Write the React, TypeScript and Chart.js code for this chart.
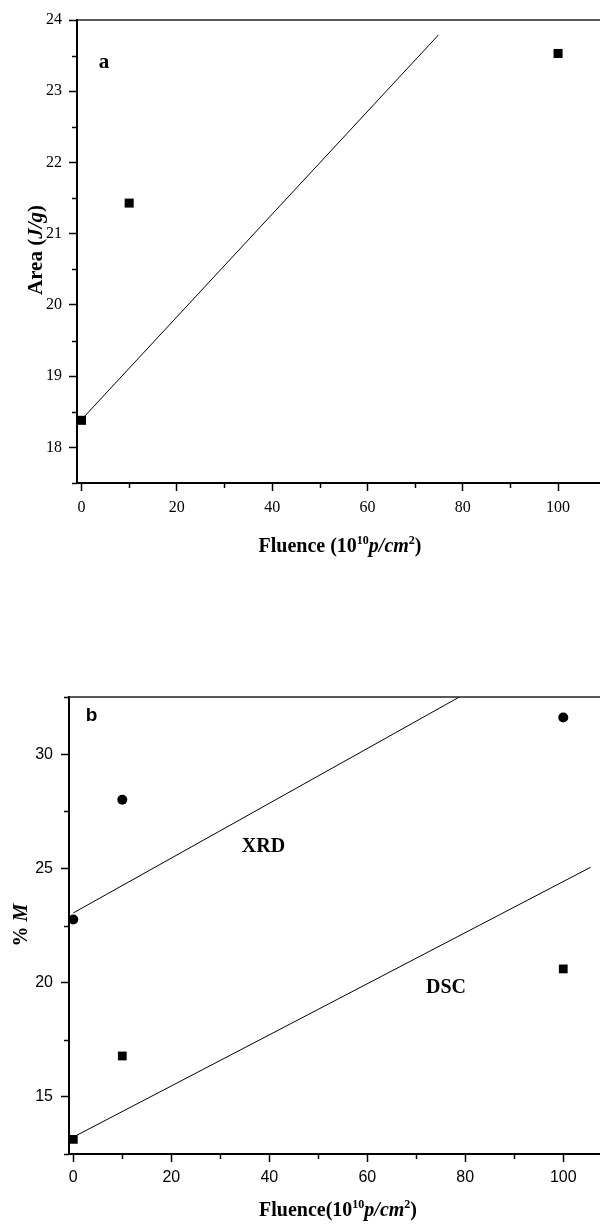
import React, { useEffect, useRef } from 'react';
import { Chart, registerables } from 'chart.js';
Chart.register(...registerables);

// ---------- Panel a ----------
const fluenceA = [0, 10, 100];
const areaA = [18.38, 21.43, 23.53];
const fitAX = [0, 74.9];
const fitAY = [18.39, 23.79];
const xTicksMajor = [0, 20, 40, 60, 80, 100];
const xTicksMinor = [10, 30, 50, 70, 90];
const yTicksA = [18, 19, 20, 21, 22, 23, 24];
const yMinorA = [17.5, 18.5, 19.5, 20.5, 21.5, 22.5, 23.5];

// ---------- Panel b ----------
const fluenceB = [0, 10, 100];
const xrdB = [22.76, 28.0, 31.6];
const dscB = [13.14, 16.79, 20.6];
const fitXrdX = [0, 78.8];
const fitXrdY = [23.05, 32.5];
const fitDscX = [0, 105.6];
const fitDscY = [13.24, 25.05];
const yTicksB = [15, 20, 25, 30];
const yMinorB = [12.5, 17.5, 22.5, 27.5, 32.5];

const SERIF = "'Liberation Serif', 'Times New Roman', serif";
const SANS = "'Liberation Sans', Arial, sans-serif";

type Seg = { t: string; f: string; dy?: number };

function drawRich(ctx: CanvasRenderingContext2D, segs: Seg[], x: number, y: number, rotate = false) {
  ctx.save();
  ctx.translate(x, y);
  if (rotate) ctx.rotate(-Math.PI / 2);
  let total = 0;
  for (const s of segs) {
    ctx.font = s.f;
    total += ctx.measureText(s.t).width;
  }
  let cx = -total / 2;
  ctx.textAlign = 'left';
  ctx.textBaseline = 'alphabetic';
  ctx.fillStyle = '#000';
  for (const s of segs) {
    ctx.font = s.f;
    ctx.fillText(s.t, cx, s.dy || 0);
    cx += ctx.measureText(s.t).width;
  }
  ctx.restore();
}

type Extra = {
  yMinor: number[];
  xTitle: { segs: Seg[]; x: number; y: number };
  yTitle: { segs: Seg[]; x: number; y: number };
  labels: { text: string; font: string; x: number; y: number }[];
};

function makePlugin(extra: Extra) {
  return {
    id: 'extras',
    afterDraw(chart: any) {
      const ctx: CanvasRenderingContext2D = chart.ctx;
      const { left, right, top, bottom } = chart.chartArea;
      const xs = chart.scales.x;
      const ys = chart.scales.y;
      ctx.save();
      // top frame line
      ctx.strokeStyle = '#222';
      ctx.lineWidth = 1.5;
      ctx.beginPath();
      ctx.moveTo(left, top);
      ctx.lineTo(right, top);
      ctx.stroke();
      // minor ticks
      ctx.strokeStyle = '#000';
      ctx.lineWidth = 1.5;
      for (const v of xTicksMinor) {
        const px = Math.round(xs.getPixelForValue(v)) + 0.5;
        ctx.beginPath();
        ctx.moveTo(px, bottom);
        ctx.lineTo(px, bottom + 5);
        ctx.stroke();
      }
      for (const v of extra.yMinor) {
        const py = Math.round(ys.getPixelForValue(v)) + 0.5;
        ctx.beginPath();
        ctx.moveTo(left - 5, py);
        ctx.lineTo(left, py);
        ctx.stroke();
      }
      ctx.restore();
      drawRich(ctx, extra.xTitle.segs, extra.xTitle.x, extra.xTitle.y, false);
      drawRich(ctx, extra.yTitle.segs, extra.yTitle.x, extra.yTitle.y, true);
      ctx.save();
      ctx.fillStyle = '#000';
      ctx.textAlign = 'center';
      ctx.textBaseline = 'alphabetic';
      for (const l of extra.labels) {
        ctx.font = l.font;
        ctx.fillText(l.text, l.x, l.y);
      }
      ctx.restore();
    },
  };
}

function xScale(min: number, max: number, height: number, family: string, pad: number) {
  return {
    type: 'linear',
    min,
    max,
    afterBuildTicks: (s: any) => {
      s.ticks = xTicksMajor.map((v) => ({ value: v }));
    },
    afterFit: (s: any) => {
      s.height = height;
    },
    grid: { display: true, drawOnChartArea: false, drawTicks: true, tickLength: 8, tickWidth: 1.5, tickColor: '#000', color: '#000' },
    border: { display: true, color: '#000', width: 2 },
    ticks: { color: '#000', font: { family, size: 16 }, padding: pad, maxRotation: 0, autoSkip: false },
  };
}

function yScale(min: number, max: number, width: number, ticks: number[], family: string, pad: number) {
  return {
    type: 'linear',
    min,
    max,
    afterBuildTicks: (s: any) => {
      s.ticks = ticks.map((v) => ({ value: v }));
    },
    afterFit: (s: any) => {
      s.width = width;
    },
    grid: { display: true, drawOnChartArea: false, drawTicks: true, tickLength: 8, tickWidth: 1.5, tickColor: '#000', color: '#000' },
    border: { display: true, color: '#000', width: 2 },
    ticks: { color: '#000', font: { family, size: 16 }, padding: pad, autoSkip: false },
  };
}

const pts = (xs: number[], ys: number[]) => xs.map((x, i) => ({ x, y: ys[i] }));

export default function App() {
  const r1 = useRef<HTMLCanvasElement>(null);
  const r2 = useRef<HTMLCanvasElement>(null);

  useEffect(() => {
    const common = {
      responsive: false,
      maintainAspectRatio: false,
      animation: false,
      devicePixelRatio: 1,
      events: [],
      plugins: { legend: { display: false }, tooltip: { enabled: false } },
    };

    const c1 = new Chart(r1.current as HTMLCanvasElement, {
      type: 'scatter',
      data: {
        datasets: [
          {
            data: pts(fluenceA, areaA),
            pointStyle: 'rect',
            pointRadius: 6.4,
            pointBorderWidth: 0,
            backgroundColor: '#000',
            borderColor: '#000',
            showLine: false,
          },
          {
            data: pts(fitAX, fitAY),
            showLine: true,
            pointRadius: 0,
            borderColor: '#000',
            borderWidth: 1,
          },
        ],
      },
      options: {
        ...common,
        layout: { autoPadding: false, padding: { top: 20, left: 0, right: 0, bottom: 0 } },
        scales: {
          x: xScale(-0.95, 108.8, 137, SERIF, 7),
          y: yScale(17.5, 24, 77, yTicksA, SERIF, 7),
        },
      } as any,
      plugins: [
        makePlugin({
          yMinor: yMinorA,
          xTitle: {
            segs: [
              { t: 'Fluence (10', f: `bold 20px ${SERIF}` },
              { t: '10', f: `bold 12px ${SERIF}`, dy: -8 },
              { t: 'p/cm', f: `italic bold 20px ${SERIF}` },
              { t: '2', f: `bold 12px ${SERIF}`, dy: -8 },
              { t: ')', f: `bold 20px ${SERIF}` },
            ],
            x: 340,
            y: 552,
          },
          yTitle: {
            segs: [
              { t: 'Area (', f: `bold 21px ${SERIF}` },
              { t: 'J/g', f: `italic bold 21px ${SERIF}` },
              { t: ')', f: `bold 21px ${SERIF}` },
            ],
            x: 42,
            y: 250,
          },
          labels: [{ text: 'a', font: `bold 21px ${SERIF}`, x: 104, y: 68 }],
        }),
      ],
    } as any);

    const c2 = new Chart(r2.current as HTMLCanvasElement, {
      type: 'scatter',
      data: {
        datasets: [
          {
            data: pts(fluenceB, xrdB),
            pointStyle: 'circle',
            pointRadius: 5,
            pointBorderWidth: 0,
            backgroundColor: '#000',
            borderColor: '#000',
            showLine: false,
          },
          {
            data: pts(fluenceB, dscB),
            pointStyle: 'rect',
            pointRadius: 6.2,
            pointBorderWidth: 0,
            backgroundColor: '#000',
            borderColor: '#000',
            showLine: false,
          },
          {
            data: pts(fitXrdX, fitXrdY),
            showLine: true,
            pointRadius: 0,
            borderColor: '#000',
            borderWidth: 1,
          },
          {
            data: pts(fitDscX, fitDscY),
            showLine: true,
            pointRadius: 0,
            borderColor: '#000',
            borderWidth: 1,
          },
        ],
      },
      options: {
        ...common,
        layout: { autoPadding: false, padding: { top: 77, left: 0, right: 0, bottom: 0 } },
        scales: {
          x: xScale(-0.88, 107.5, 73, SANS, 6),
          y: yScale(12.5, 32.5, 69, yTicksB, SANS, 8),
        },
      } as any,
      plugins: [
        makePlugin({
          yMinor: yMinorB,
          xTitle: {
            segs: [
              { t: 'Fluence(10', f: `bold 20px ${SERIF}` },
              { t: '10', f: `bold 12px ${SERIF}`, dy: -8 },
              { t: 'p/cm', f: `italic bold 20px ${SERIF}` },
              { t: '2', f: `bold 12px ${SERIF}`, dy: -8 },
              { t: ')', f: `bold 20px ${SERIF}` },
            ],
            x: 338,
            y: 596,
          },
          yTitle: {
            segs: [
              { t: '% ', f: `bold 20px ${SERIF}` },
              { t: 'M', f: `italic bold 20px ${SERIF}` },
            ],
            x: 27,
            y: 305,
          },
          labels: [
            { text: 'b', font: `bold 19px ${SANS}`, x: 91.5, y: 101 },
            { text: 'XRD', font: `bold 20px ${SERIF}`, x: 263.5, y: 232 },
            { text: 'DSC', font: `bold 20px ${SERIF}`, x: 446, y: 372.7 },
          ],
        }),
      ],
    } as any);

    return () => {
      c1.destroy();
      c2.destroy();
    };
  }, []);

  return (
    <div style={{ position: 'absolute', left: 0, top: 0, width: 600, height: 1227, background: '#fff' }}>
      <canvas ref={r1} width={600} height={620} style={{ display: 'block', width: 600, height: 620 }} />
      <canvas ref={r2} width={600} height={607} style={{ display: 'block', width: 600, height: 607 }} />
    </div>
  );
}
